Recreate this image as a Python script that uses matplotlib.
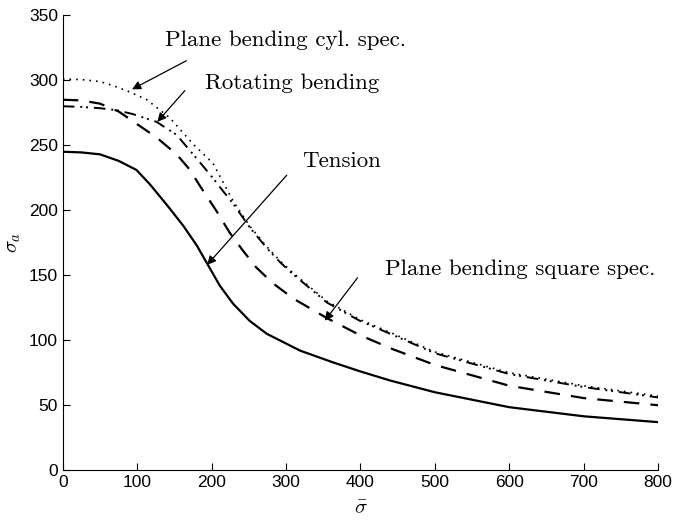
import numpy as np
import matplotlib
matplotlib.use('Agg')
import matplotlib.pyplot as plt

plt.rcParams['mathtext.fontset'] = 'cm'

# values, each curve at its own sample points
x_tension = [0, 25, 50, 75, 99, 117, 140, 162, 180, 193, 211, 229, 251, 274, 319, 363, 400, 440, 500, 600, 700, 800]
tension = [245, 244.5, 243, 238, 231, 220, 204, 188, 173, 160, 142, 128, 115, 105, 92, 83, 76, 69, 60, 48.5, 41.5, 37]

x_square = [0, 25, 50, 75, 103, 126, 153, 171, 184, 207, 224, 242, 260, 282, 310, 355, 399, 444, 500, 600, 700, 800]
square = [285, 284.5, 282, 276, 265, 256, 243, 231, 219, 199, 183, 169, 156, 144, 132, 117, 104, 93, 81, 65, 55.5, 50]

x_rotating = [0, 25, 50, 72, 94, 126, 153, 184, 200, 215, 229, 251, 274, 292, 309, 355, 399, 444, 500, 600, 700, 800]
rotating = [280, 279.5, 278.5, 277, 274, 268, 258, 237, 226, 215, 205, 187, 171, 160, 151, 129, 115, 104, 90, 74, 64, 56]

x_cyl = [0, 25, 50, 67, 90, 113, 144, 175, 202, 215, 229, 251, 274, 292, 309, 355, 399, 444, 500, 600, 700, 800]
cyl = [301, 300.5, 299, 296, 291, 285, 271, 251, 236, 222, 207, 188, 172, 161, 152, 130, 116, 105, 91, 75, 65, 57]

labels = ['Plane bending cyl. spec.', 'Rotating bending', 'Tension', 'Plane bending square spec.']
text_xy = [(137, 331), (191, 298), (321, 238), (433, 155)]
tail_xy = [(166, 315), (164, 292), (301, 227), (396, 148)]
tip_xy = [(93, 293), (127, 268), (194, 158), (352, 115)]

fig = plt.figure(figsize=(6.75, 5.26), dpi=100)
ax = fig.add_axes([0.093, 0.106, 0.882, 0.865])

ax.plot(x_tension, tension, color='black', lw=1.6)
ax.plot(x_square, square, color='black', lw=1.6, linestyle=(0, (7, 5)))
ax.plot(x_rotating, rotating, color='black', lw=1.4, linestyle=(0, (6, 3, 1, 2, 1, 3)))
ax.plot(x_cyl, cyl, color='black', lw=1.2, linestyle=(0, (1, 3)))

for lab, txy, a, b in zip(labels, text_xy, tail_xy, tip_xy):
    ax.text(txy[0], txy[1], lab, fontsize=16.5, family='cmr10', va='center', ha='left')
    ax.annotate('', xy=b, xytext=a,
                arrowprops=dict(arrowstyle='-|>', lw=0.9, color='black',
                                mutation_scale=13, shrinkA=0, shrinkB=0))

ax.set_xlim(0, 800)
ax.set_ylim(0, 350)
ax.set_xticks(np.arange(0, 801, 100))
ax.set_yticks(np.arange(0, 351, 50))
ax.tick_params(direction='in', labelsize=12.5, length=5)
for lbl in ax.get_xticklabels() + ax.get_yticklabels():
    lbl.set_family('Liberation Sans')
ax.spines['top'].set_visible(False)
ax.spines['right'].set_visible(False)
ax.set_xlabel(r'$\bar{\sigma}$', fontsize=15, labelpad=5)
ax.set_ylabel(r'$\sigma_a$', fontsize=15, labelpad=4)

plt.savefig('out.png', dpi=100)
